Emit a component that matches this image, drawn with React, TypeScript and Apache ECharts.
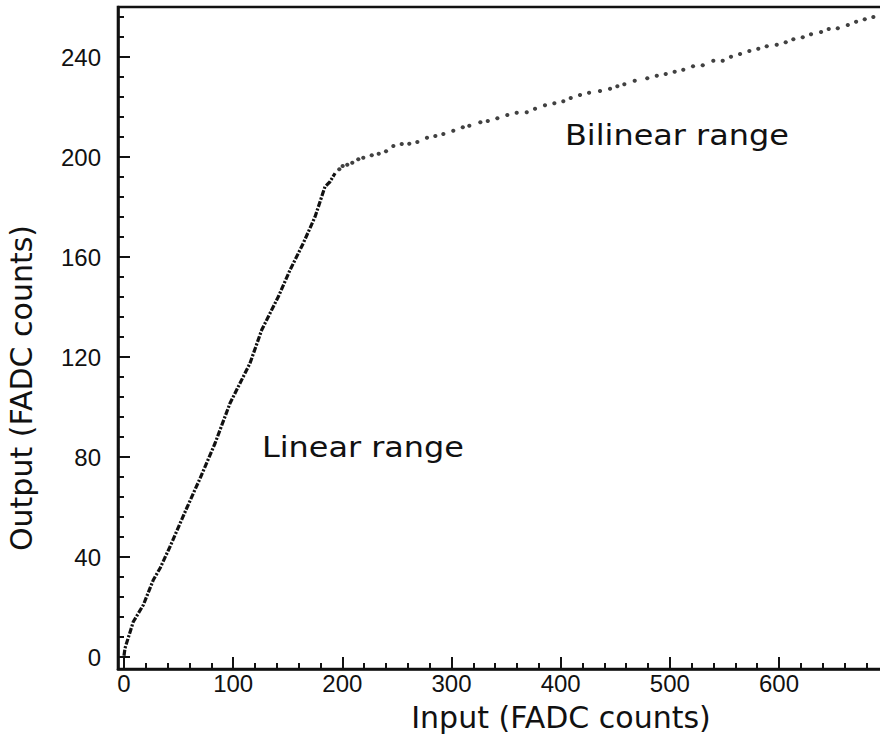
import React, { useEffect, useRef } from "react";
import * as echarts from "echarts";

// Axis ranges (data units)
const xMin = -5.5;
const xMax = 710.8;
const yMin = -4.8;
const yMax = 260;

// Tick values
const xMajorTicks = [0, 100, 200, 300, 400, 500, 600];
const xMinorTicks = [0, 20, 40, 60, 80, 100, 120, 140, 160, 180, 200, 220, 240, 260, 280, 300, 320, 340, 360, 380, 400, 420, 440, 460, 480, 500, 520, 540, 560, 580, 600, 620, 640, 660, 680, 700];
const yMajorTicks = [0, 40, 80, 120, 160, 200, 240];
const yMinorTicks = [0, 8, 16, 24, 32, 40, 48, 56, 64, 72, 80, 88, 96, 104, 112, 120, 128, 136, 144, 152, 160, 168, 176, 184, 192, 200, 208, 216, 224, 232, 240, 248, 256];

// Linear range (dense trace)
const linearX = [0, 0.9, 8.5, 17.7, 26.8, 33, 42.1, 57.4, 69, 83.4, 97.1, 115.4, 126.1, 141.3, 152.1, 164.2, 175, 184.1, 188.7, 193.3];
const linearY = [0.5, 3.5, 14.1, 20.8, 30.8, 35.5, 44.1, 59.5, 70.8, 85.5, 101.5, 117.5, 130.8, 144.1, 154.8, 165.5, 176.1, 188.1, 190.1, 193.5];

// Bilinear range (sparse dots)
const bilinearX = [197.2, 200.3, 204.5, 209.1, 214.6, 219.2, 226.9, 233.3, 240.0, 246.7, 254.4, 261.3, 268.7, 277.5, 285.2, 292.5, 301.6, 310.3, 316.3, 326.4, 333.2, 342.0, 351.1, 359.7, 368.9, 376.5, 385.6, 394.2, 402.4, 409.2, 417.7, 426.0, 436.0, 445.2, 451.9, 458.3, 467.8, 479.3, 488.0, 496.2, 504.4, 512.3, 521.2, 530.1, 539.8, 548.4, 556.0, 564.3, 572.8, 581.0, 588.7, 597.9, 606.1, 613.1, 621.7, 629.3, 638.5, 645.5, 653.8, 663.0, 670.6, 678.5, 686.4];
const bilinearY = [195.1, 196.4, 196.9, 197.7, 199.1, 199.7, 200.7, 201.3, 202.3, 204.4, 205.2, 205.3, 206.0, 207.7, 208.4, 209.2, 210.5, 211.9, 212.5, 213.9, 214.4, 215.5, 216.8, 217.7, 217.9, 219.3, 220.7, 221.5, 222.3, 223.6, 224.8, 225.7, 226.4, 227.3, 228.3, 229.1, 230.5, 231.5, 232.5, 233.2, 234.1, 234.9, 236.3, 236.7, 238.5, 238.5, 240.1, 241.2, 242.4, 243.3, 244.3, 244.9, 245.9, 247.1, 247.9, 249.1, 250.0, 251.2, 251.5, 252.8, 254.1, 255.1, 256.0];

const xTitle = "Input (FADC counts)";
const yTitle = "Output (FADC counts)";
const note1 = "Linear range";
const note2 = "Bilinear range";

const INK = "#111";
const labelFont = { fontFamily: "Liberation Sans", fontSize: 24, color: INK };
const nameFont = { fontFamily: "DejaVu Sans", fontSize: 30, color: INK };

export default function App() {
  const ref = useRef<HTMLDivElement>(null);
  useEffect(() => {
    if (!ref.current) return;
    const chart = echarts.init(ref.current, null, { renderer: "svg" });
    const option: any = {
      animation: false,
      backgroundColor: "#fff",
      grid: {
        left: 118,
        right: -20,
        top: 7,
        bottom: 71,
        containLabel: false,
        outerBoundsMode: "none",
        show: true,
        borderColor: INK,
        borderWidth: 2.6,
        backgroundColor: "transparent",
      },
      xAxis: [
        {
          type: "value",
          min: xMin,
          max: xMax,
          position: "bottom",
          axisLine: { show: true, onZero: false, lineStyle: { color: INK, width: 2.6 } },
          axisTick: { show: true, inside: true, length: 12, customValues: xMajorTicks, lineStyle: { color: INK, width: 2 } },
          axisLabel: { show: true, customValues: xMajorTicks, margin: 2, ...labelFont },
          splitLine: { show: false },
          name: xTitle,
          nameLocation: "middle",
          nameGap: 33,
          nameTextStyle: { ...nameFont, padding: [0, 0, 0, 104] },
        },
        {
          type: "value",
          min: xMin,
          max: xMax,
          position: "bottom",
          axisLine: { show: false, onZero: false },
          axisTick: { show: true, inside: true, length: 6, customValues: xMinorTicks, lineStyle: { color: INK, width: 2 } },
          axisLabel: { show: false },
          splitLine: { show: false },
        },
      ],
      yAxis: [
        {
          type: "value",
          min: yMin,
          max: yMax,
          position: "left",
          axisLine: { show: true, onZero: false, lineStyle: { color: INK, width: 2.6 } },
          axisTick: { show: true, inside: true, length: 12, customValues: yMajorTicks, lineStyle: { color: INK, width: 2 } },
          axisLabel: { show: true, customValues: yMajorTicks, margin: 17, ...labelFont },
          splitLine: { show: false },
          name: yTitle,
          nameLocation: "middle",
          nameGap: 82,
          nameTextStyle: { ...nameFont, padding: [0, 100, 0, 0] },
        },
        {
          type: "value",
          min: yMin,
          max: yMax,
          position: "left",
          axisLine: { show: false, onZero: false },
          axisTick: { show: true, inside: true, length: 6, customValues: yMinorTicks, lineStyle: { color: INK, width: 2 } },
          axisLabel: { show: false },
          splitLine: { show: false },
        },
      ],
      series: [
        {
          type: "line",
          xAxisIndex: 0,
          yAxisIndex: 0,
          data: linearX.map((x, i) => [x, linearY[i]]),
          showSymbol: false,
          smooth: false,
          lineStyle: { color: INK, width: 3.2, type: [6, 1.6, 2.2, 1.6] },
          silent: true,
        },
        {
          type: "scatter",
          xAxisIndex: 0,
          yAxisIndex: 0,
          data: bilinearX.map((x, i) => [x, bilinearY[i]]),
          symbol: "circle",
          symbolSize: 4.2,
          itemStyle: { color: INK },
          silent: true,
        },
      ],
      graphic: [
        {
          type: "text",
          x: 262,
          y: 433,
          scaleX: 1.1,
          style: { text: note1, fontFamily: "DejaVu Sans", fontSize: 29, fill: INK, align: "left", verticalAlign: "top" },
        },
        {
          type: "text",
          x: 565,
          y: 121,
          scaleX: 1.1,
          style: { text: note2, fontFamily: "DejaVu Sans", fontSize: 29, fill: INK, align: "left", verticalAlign: "top" },
        },
      ],
    };
    chart.setOption(option);
    return () => chart.dispose();
  }, []);
  return (
    <div
      ref={ref}
      style={{ position: "absolute", left: 0, top: 0, width: 880, height: 740 }}
    />
  );
}
